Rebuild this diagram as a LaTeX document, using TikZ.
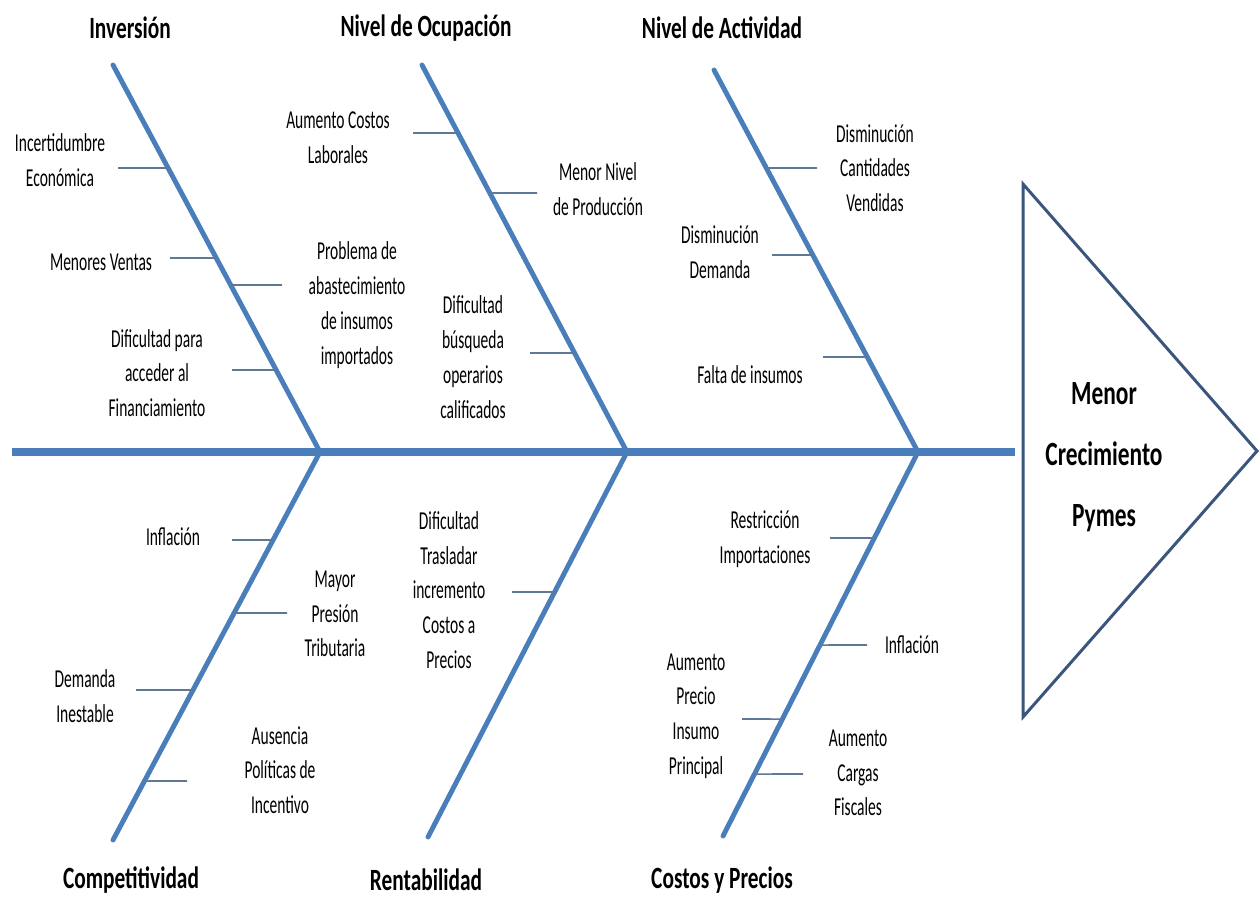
\documentclass[tikz,border=0pt]{standalone}
\usepackage{fontspec}
\newfontfamily\lblfont{Carlito}[FakeStretch=0.6]
\newfontfamily\ttlfont{Carlito}[FakeStretch=0.69]
\usetikzlibrary{calc,positioning}
\definecolor{fishblue}{RGB}{74,126,187}
\definecolor{tickgray}{RGB}{95,120,150}
\definecolor{headblue}{RGB}{58,86,125}
\tikzset{
  spine/.style={draw=fishblue, line width=4.4pt},
  bone/.style={draw=fishblue, line width=2.8pt, line cap=round},
  tick/.style={draw=tickgray, line width=0.9pt},
  headline/.style={draw=headblue, line width=1.7pt},
  cause/.style={
    align=center,
    inner sep=0pt,
    font=\lblfont\fontsize{14.7}{19.8}\selectfont},
  categ/.style={
    inner sep=0pt,
    font=\ttlfont\bfseries\fontsize{17.6}{21}\selectfont},
  effect/.style={
    align=center,
    inner sep=0pt,
    font=\ttlfont\bfseries\fontsize{19.3}{34.6}\selectfont},
}
\begin{document}
\begin{tikzpicture}[x=0.02cm, y=-0.02cm]
  \useasboundingbox (0,0) rectangle (1260,899);
  % spine and head
  \coordinate (tail) at (12,452);
  \coordinate (mouth) at (1015,452);
  \draw[spine] (tail) -- (mouth);
  \draw[headline] (1023,184) coordinate (h1) -- (1257,451) coordinate (h2)
    -- (1023,717) coordinate (h3) -- cycle;
  \node[effect] (efecto) at (1104,457) {Menor\\Crecimiento\\Pymes};
  % bones
  \coordinate (inv-a) at (113,65);  \coordinate (inv-b) at (320,452);
  \coordinate (ocu-a) at (422,65);  \coordinate (ocu-b) at (627,452);
  \coordinate (act-a) at (714,70);  \coordinate (act-b) at (918,452);
  \coordinate (com-a) at (113,840); \coordinate (com-b) at (320,452);
  \coordinate (ren-a) at (428,837); \coordinate (ren-b) at (627,452);
  \coordinate (cos-a) at (723,836); \coordinate (cos-b) at (918,452);
  \foreach \b in {inv,ocu,act,com,ren,cos}
    \draw[bone] (\b-a) -- (\b-b);
  % categories
  \node[categ] (inversion) at (130,28) {Inversión};
  \node[categ] (ocupacion) at (426,28) {Nivel de Ocupación};
  \node[categ] (actividad) at (722,28) {Nivel de Actividad};
  \node[categ] (competitividad) at (131,880) {Competitividad};
  \node[categ] (rentabilidad) at (426,880) {Rentabilidad};
  \node[categ] (costos) at (722,880) {Costos y Precios};
  % ticks
  \draw[tick] (intersection of inv-a--inv-b and 0,168--1,168) coordinate (inv1) -- (118,168) coordinate (inv1e);
  \draw[tick] (intersection of inv-a--inv-b and 0,258--1,258) coordinate (inv2) -- (170,258) coordinate (inv2e);
  \draw[tick] (intersection of inv-a--inv-b and 0,285--1,285) coordinate (inv3) -- (282,285) coordinate (inv3e);
  \draw[tick] (intersection of inv-a--inv-b and 0,370--1,370) coordinate (inv4) -- (232,370) coordinate (inv4e);
  \draw[tick] (intersection of ocu-a--ocu-b and 0,133--1,133) coordinate (ocu1) -- (413,133) coordinate (ocu1e);
  \draw[tick] (intersection of ocu-a--ocu-b and 0,193--1,193) coordinate (ocu2) -- (537,193) coordinate (ocu2e);
  \draw[tick] (intersection of ocu-a--ocu-b and 0,353--1,353) coordinate (ocu3) -- (530,353) coordinate (ocu3e);
  \draw[tick] (intersection of act-a--act-b and 0,168--1,168) coordinate (act1) -- (817,168) coordinate (act1e);
  \draw[tick] (intersection of act-a--act-b and 0,255--1,255) coordinate (act2) -- (772,255) coordinate (act2e);
  \draw[tick] (intersection of act-a--act-b and 0,357--1,357) coordinate (act3) -- (823,357) coordinate (act3e);
  \draw[tick] (intersection of com-a--com-b and 0,540--1,540) coordinate (com1) -- (232,540) coordinate (com1e);
  \draw[tick] (intersection of com-a--com-b and 0,613--1,613) coordinate (com2) -- (287,613) coordinate (com2e);
  \draw[tick] (intersection of com-a--com-b and 0,690--1,690) coordinate (com3) -- (136,690) coordinate (com3e);
  \draw[tick] (intersection of com-a--com-b and 0,781--1,781) coordinate (com4) -- (187,781) coordinate (com4e);
  \draw[tick] (intersection of ren-a--ren-b and 0,592--1,592) coordinate (ren1) -- (512,592) coordinate (ren1e);
  \draw[tick] (intersection of cos-a--cos-b and 0,538--1,538) coordinate (cos1) -- (830,538) coordinate (cos1e);
  \draw[tick] (intersection of cos-a--cos-b and 0,645--1,645) coordinate (cos2) -- (867,645) coordinate (cos2e);
  \draw[tick] (intersection of cos-a--cos-b and 0,719--1,719) coordinate (cos3) -- (742,719) coordinate (cos3e);
  \draw[tick] (intersection of cos-a--cos-b and 0,774--1,774) coordinate (cos4) -- (803,774) coordinate (cos4e);
  % causes
  \node[cause] (incert) at (60,160) {Incertidumbre\\Económica};
  \node[cause] (ventas) at (101,262) {Menores Ventas};
  \node[cause] (abast) at (357,305) {Problema de\\abastecimiento\\de insumos\\importados};
  \node[cause] (financ) at (157,373) {Dificultad para\\acceder al\\Financiamiento};
  \node[cause] (laborales) at (338,138) {Aumento Costos\\Laborales};
  \node[cause] (produccion) at (598,189) {Menor Nivel\\de Producción};
  \node[cause] (operarios) at (473,357) {Dificultad\\búsqueda\\operarios\\calificados};
  \node[cause] (cantidades) at (875,168) {Disminución\\Cantidades\\Vendidas};
  \node[cause] (demanda) at (720,252) {Disminución\\Demanda};
  \node[cause] (falta) at (750,375) {Falta de insumos};
  \node[cause] (inflacion1) at (173,537) {Inflación};
  \node[cause] (presion) at (335,614) {Mayor\\Presión\\Tributaria};
  \node[cause] (inestable) at (85,696) {Demanda\\Inestable};
  \node[cause] (politicas) at (280,770) {Ausencia\\Políticas de\\Incentivo};
  \node[cause] (trasladar) at (449,590) {Dificultad\\Trasladar\\incremento\\Costos a\\Precios};
  \node[cause] (restric) at (765,539) {Restricción\\Importaciones};
  \node[cause] (inflacion2) at (912,645) {Inflación};
  \node[cause] (insumo) at (696,716) {Aumento\\Precio\\Insumo\\Principal};
  \node[cause] (cargas) at (858,773) {Aumento\\Cargas\\Fiscales};
\end{tikzpicture}
\end{document}
